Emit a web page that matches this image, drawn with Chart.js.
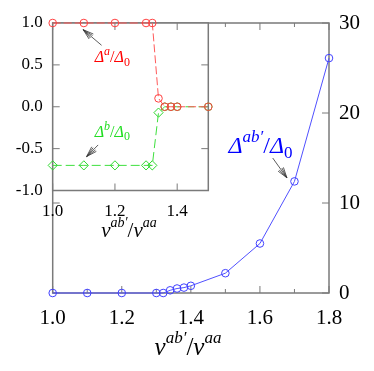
<!DOCTYPE html>
<html>
<head>
<meta charset="utf-8">
<script src="https://cdn.jsdelivr.net/npm/chart.js@4.4.1/dist/chart.umd.min.js"></script>
<style>
html, body { margin: 0; padding: 0; background: #fff; }
#wrap { position: relative; width: 374px; height: 371px; }
#wrap canvas { position: absolute; left: 0; top: 0; }
</style>
</head>
<body>
<div id="wrap">
  <canvas id="main" width="374" height="371"></canvas>
  <canvas id="inset" width="374" height="371"></canvas>
</div>
<script>
// main plot: Delta^{ab'}/Delta_0 vs v^{ab'}/v^{aa}
const mainX = [1.0, 1.1, 1.2, 1.3, 1.32, 1.34, 1.36, 1.38, 1.4, 1.5, 1.6, 1.7, 1.8];
const mainY = [0, 0, 0, 0, 0, 0.3, 0.5, 0.6, 0.8, 2.2, 5.5, 12.4, 26.1];
const mainXTicks = [1.0, 1.2, 1.4, 1.6, 1.8];
const mainXMinor = [1.1, 1.3, 1.5, 1.7];
const mainYTicks = [0, 10, 20, 30];

// inset: Delta^a/Delta_0 and Delta^b/Delta_0
const insetX = [1.0, 1.1, 1.2, 1.3, 1.32, 1.34, 1.36, 1.38, 1.4, 1.5];
const deltaA = [1, 1, 1, 1, 1, 0.1, 0, 0, 0, 0];
const deltaB = [-0.7, -0.7, -0.7, -0.7, -0.7, -0.07, 0, 0, 0, 0];
const insetXTicks = [1.0, 1.2, 1.4];
const insetYTicks = [-1.0, -0.5, 0.0, 0.5, 1.0];

const SERIF = 'Liberation Serif';
Chart.defaults.font.family = SERIF;
const toPts = (xs, ys) => xs.map((x, i) => ({ x: x, y: ys[i] }));

// text with super/subscripts, parts: [text, size, italic, shift]
function richText(ctx, parts, x, y, color, align) {
  ctx.save();
  ctx.fillStyle = color;
  ctx.textBaseline = 'alphabetic';
  ctx.textAlign = 'left';
  let w = 0;
  parts.forEach(p => {
    ctx.font = (p[2] ? 'italic ' : '') + p[1] + 'px "' + SERIF + '"';
    w += ctx.measureText(p[0]).width;
  });
  let cx = align === 'center' ? x - w / 2 : x;
  parts.forEach(p => {
    ctx.font = (p[2] ? 'italic ' : '') + p[1] + 'px "' + SERIF + '"';
    ctx.fillText(p[0], cx, y - (p[3] || 0));
    cx += ctx.measureText(p[0]).width;
  });
  ctx.restore();
}

function arrow(ctx, x1, y1, x2, y2) {
  const ang = Math.atan2(y2 - y1, x2 - x1);
  ctx.save();
  ctx.strokeStyle = '#333';
  ctx.lineWidth = 0.8;
  ctx.beginPath();
  ctx.moveTo(x1, y1);
  ctx.lineTo(x2, y2);
  [-0.3, -0.15, 0.15, 0.3].forEach(d => {
    ctx.moveTo(x2, y2);
    ctx.lineTo(x2 - 11 * Math.cos(ang + d), y2 - 11 * Math.sin(ang + d));
  });
  ctx.stroke();
  ctx.restore();
}

function frameAndTicks(chart, xMaj, xMin, yMaj) {
  const { ctx, chartArea: a } = chart;
  const x = chart.scales.x, y = chart.scales.y;
  ctx.save();
  ctx.strokeStyle = '#7a7a7a';
  ctx.lineWidth = 1.5;
  ctx.strokeRect(a.left, a.top, a.right - a.left, a.bottom - a.top);
  ctx.lineWidth = 1;
  ctx.beginPath();
  xMaj.concat(xMin).forEach((v, i) => {
    const len = i < xMaj.length ? 7 : 4;
    const px = x.getPixelForValue(v);
    ctx.moveTo(px, a.bottom); ctx.lineTo(px, a.bottom - len);
    ctx.moveTo(px, a.top); ctx.lineTo(px, a.top + len);
  });
  yMaj.forEach(v => {
    const py = y.getPixelForValue(v);
    ctx.moveTo(a.left, py); ctx.lineTo(a.left + 7, py);
    ctx.moveTo(a.right, py); ctx.lineTo(a.right - 7, py);
  });
  ctx.stroke();
  ctx.restore();
}

const nu = (big, small) => [['ν', big, true, 0], ['ab′', small, true, small * 0.7], ['/', big, false, 0], ['ν', big, true, 0], ['aa', small, true, small * 0.7]];
const delta = (sup, big, small) => [['Δ', big, true, 0], [sup, small, true, big * 0.45], ['/', big, false, 0], ['Δ', big, true, 0], ['0', small, false, -big * 0.22]];

new Chart(document.getElementById('main'), {
  type: 'line',
  data: {
    datasets: [{
      data: toPts(mainX, mainY),
      borderColor: '#5050ff',
      borderWidth: 1,
      pointStyle: 'circle',
      pointRadius: 3.8,
      pointBorderWidth: 1,
      pointBorderColor: '#4040ff',
      pointBackgroundColor: 'rgba(0,0,0,0)',
      clip: false
    }]
  },
  options: {
    responsive: false,
    animation: false,
    layout: { padding: { left: 52.7, top: 23, right: 0, bottom: 0 } },
    plugins: { legend: { display: false }, tooltip: { enabled: false } },
    scales: {
      x: {
        type: 'linear', position: 'bottom', min: 1.0, max: 1.8,
        grid: { display: false, drawTicks: false }, border: { display: false },
        afterBuildTicks: s => { s.ticks = mainXTicks.map(v => ({ value: v })); },
        afterFit: s => { s.height = 78; },
        ticks: { color: '#000', padding: 13, maxRotation: 0, autoSkip: false, font: { family: SERIF, size: 21 }, callback: v => v.toFixed(1) }
      },
      y: {
        type: 'linear', position: 'right', min: 0, max: 30,
        grid: { display: false, drawTicks: false }, border: { display: false },
        afterBuildTicks: s => { s.ticks = mainYTicks.map(v => ({ value: v })); },
        afterFit: s => { s.width = 45; },
        ticks: { color: '#000', padding: 10, font: { family: SERIF, size: 21 }, callback: v => String(v) }
      }
    }
  },
  plugins: [{
    id: 'mainDeco',
    beforeDatasetsDraw(chart) { frameAndTicks(chart, mainXTicks, mainXMinor, mainYTicks); },
    afterDatasetsDraw(chart) {
      const ctx = chart.ctx, x = chart.scales.x, y = chart.scales.y;
      richText(ctx, delta('ab′', 24, 17), x.getPixelForValue(1.509), y.getPixelForValue(15.6), '#0000ff', 'left');
      arrow(ctx, x.getPixelForValue(1.637), y.getPixelForValue(15.0), x.getPixelForValue(1.678), y.getPixelForValue(12.8));
      richText(ctx, nu(25, 17), 188, 355, '#000', 'center');
    }
  }]
});

new Chart(document.getElementById('inset'), {
  type: 'line',
  data: {
    datasets: [{
      data: toPts(insetX, deltaA),
      borderColor: '#ff5a5a',
      borderWidth: 1,
      borderDash: [8, 3],
      pointStyle: 'circle',
      pointRadius: 3.8,
      pointBorderWidth: 1,
      pointBorderColor: '#ff4040',
      pointBackgroundColor: 'rgba(0,0,0,0)',
      clip: false
    }, {
      data: toPts(insetX, deltaB),
      borderColor: '#3ee03e',
      borderWidth: 1,
      borderDash: [9, 4],
      pointStyle: insetX.map((v, i) => deltaB[i] === 0 ? 'circle' : 'rectRot'),
      pointRadius: insetX.map((v, i) => deltaB[i] === 0 ? 3.8 : 4.6),
      pointBorderWidth: 1,
      pointBorderColor: '#30d830',
      pointBackgroundColor: 'rgba(0,0,0,0)',
      clip: false
    }]
  },
  options: {
    responsive: false,
    animation: false,
    layout: { padding: { left: 0, top: 23, right: 165.7, bottom: 0 } },
    plugins: { legend: { display: false }, tooltip: { enabled: false } },
    scales: {
      x: {
        type: 'linear', position: 'bottom', min: 1.0, max: 1.5,
        grid: { display: false, drawTicks: false }, border: { display: false },
        afterBuildTicks: s => { s.ticks = insetXTicks.map(v => ({ value: v })); },
        afterFit: s => { s.height = 180.5; },
        ticks: { color: '#000', padding: 11, maxRotation: 0, autoSkip: false, font: { family: SERIF, size: 17 }, callback: v => v.toFixed(1) }
      },
      y: {
        type: 'linear', position: 'left', min: -1.0, max: 1.0,
        grid: { display: false, drawTicks: false }, border: { display: false },
        afterBuildTicks: s => { s.ticks = insetYTicks.map(v => ({ value: v })); },
        afterFit: s => { s.width = 52.7; },
        ticks: { color: '#000', padding: 10, font: { family: SERIF, size: 17 }, callback: v => v.toFixed(1) }
      }
    }
  },
  plugins: [{
    id: 'insetDeco',
    beforeDatasetsDraw(chart) {
      const { ctx, chartArea: a } = chart;
      ctx.save();
      ctx.fillStyle = '#fff';
      ctx.fillRect(a.left, a.top, a.right - a.left, a.bottom - a.top);
      ctx.restore();
      frameAndTicks(chart, insetXTicks, [], insetYTicks.slice(1, -1));
    },
    afterDatasetsDraw(chart) {
      const ctx = chart.ctx, x = chart.scales.x, y = chart.scales.y;
      richText(ctx, delta('a', 16, 12), x.getPixelForValue(1.135), y.getPixelForValue(0.53), '#ff0000', 'left');
      arrow(ctx, x.getPixelForValue(1.157), y.getPixelForValue(0.734), x.getPixelForValue(1.098), y.getPixelForValue(0.92));
      richText(ctx, delta('b', 16, 12), x.getPixelForValue(1.135), y.getPixelForValue(-0.36), '#22dd22', 'left');
      arrow(ctx, x.getPixelForValue(1.146), y.getPixelForValue(-0.456), x.getPixelForValue(1.109), y.getPixelForValue(-0.595));
      richText(ctx, nu(21, 14), 129, 237, '#000', 'center');
    }
  }]
});
</script>
</body>
</html>
